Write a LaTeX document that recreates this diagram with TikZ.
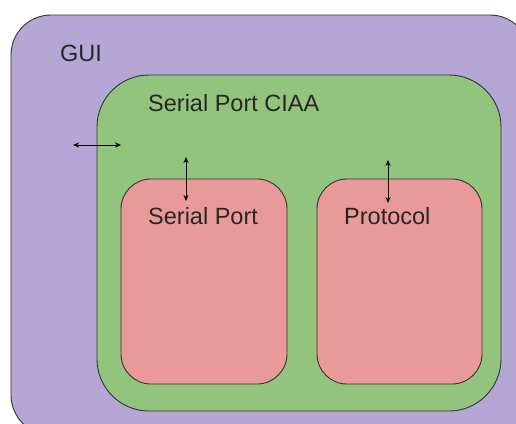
\documentclass[tikz,border=0pt]{standalone}
\usepackage{fontspec}
\setmainfont{Liberation Sans}
\usepackage{tikz}
\usetikzlibrary{arrows.meta}

\definecolor{guicol}{HTML}{B4A7D6}
\definecolor{ciaacol}{HTML}{93C47D}
\definecolor{modcol}{HTML}{EA9999}
\definecolor{edgecol}{HTML}{333333}

\tikzset{
  layer/.style={draw=edgecol,line width=0.9bp,rectangle,inner sep=0pt,outer sep=0pt},
  lbl/.style={anchor=west,inner sep=0pt,font=\fontsize{23.5bp}{28bp}\selectfont,text=black!85}
}

\begin{document}
\begin{tikzpicture}[x=1bp,y=-1bp,>={Stealth[length=6bp,width=5bp]}]
        \clip(0,0)rectangle(516,423);
        \node[layer,fill=guicol,rounded corners=40bp,minimum width=519bp,minimum height=420bp](gui)at(270.5,225){};
        \node[layer,fill=ciaacol,rounded corners=52bp,minimum width=404bp,minimum height=336bp](ciaa)at(299,243){};
        \node[layer,fill=modcol,rounded corners=30bp,minimum width=166bp,minimum height=205bp](sp)at(204,281.5){};
        \node[layer,fill=modcol,rounded corners=30bp,minimum width=165bp,minimum height=205bp](proto)at(399.5,281.5){};
        \node[lbl](guit)at(60,53){GUI};
        \node[lbl](ciaat)at(148,103){Serial Port CIAA};
        \node[lbl](spt)at(148,216){Serial Port};
        \node[lbl](protot)at(344,216){Protocol};
        \coordinate(h1)at(73,145);
        \coordinate(h2)at(121,145);
        \coordinate(v1)at(186,157);
        \coordinate(v2)at(186,201);
        \coordinate(w1)at(388,160);
        \coordinate(w2)at(388,203);
        \draw[<->,line width=0.9bp](h1)--(h2);
        \draw[<->,line width=0.9bp](v1)--(v2);
        \draw[<->,line width=0.9bp](w1)--(w2);
        \end{tikzpicture}
\end{document}
